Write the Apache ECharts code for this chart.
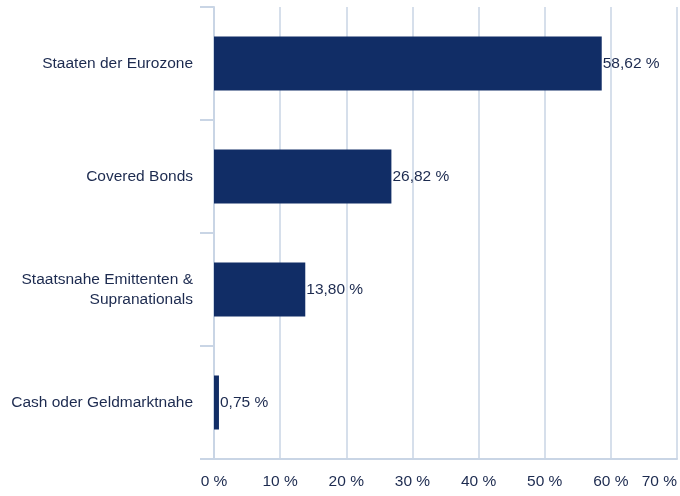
<!DOCTYPE html>
<html>
<head>
<meta charset="utf-8">
<script src="https://cdn.jsdelivr.net/npm/echarts@6/dist/echarts.min.js"></script>
<style>html,body{margin:0;padding:0;background:#fff;}#c{width:680px;height:496px;}</style>
</head>
<body>
<div id="c"></div>
<script>
const categories = ['Staaten der Eurozone', 'Covered Bonds', 'Staatsnahe Emittenten &\nSupranationals', 'Cash oder Geldmarktnahe'];
const values = [58.62, 26.82, 13.80, 0.75];
const xTicks = [0, 10, 20, 30, 40, 50, 60, 70];

const chart = echarts.init(document.getElementById('c'));
const textColor = '#1c2a4f';
const lineColor = '#c9d5e5';
const ff = 'Liberation Sans, Arial, sans-serif';
chart.setOption({
  animation: false,
  grid: { left: 214, right: 3, top: 7, bottom: 37, containLabel: false },
  xAxis: {
    type: 'value', min: xTicks[0], max: xTicks[xTicks.length - 1], interval: 10,
    axisLine: { show: true, lineStyle: { color: lineColor, width: 2 } },
    axisTick: { show: false },
    splitLine: { show: true, lineStyle: { color: lineColor, width: 1.5 } },
    axisLabel: { color: textColor, fontSize: 15.5, fontFamily: ff, margin: 15, alignMaxLabel: 'right', formatter: v => v + ' %' }
  },
  yAxis: {
    type: 'category', inverse: true, data: categories,
    axisLine: { show: true, lineStyle: { color: lineColor, width: 2 } },
    axisTick: { show: true, length: 14, lineStyle: { color: lineColor, width: 2 } },
    axisLabel: { color: textColor, fontSize: 15.5, lineHeight: 20, fontFamily: ff, margin: 21 }
  },
  series: [{
    type: 'bar', data: values, barWidth: 54,
    itemStyle: { color: '#112d66' },
    label: { show: true, position: 'right', distance: 1, color: textColor, fontSize: 15.5, fontFamily: ff,
      formatter: p => p.value.toFixed(2).replace('.', ',') + ' %' }
  }]
});
</script>
</body>
</html>
